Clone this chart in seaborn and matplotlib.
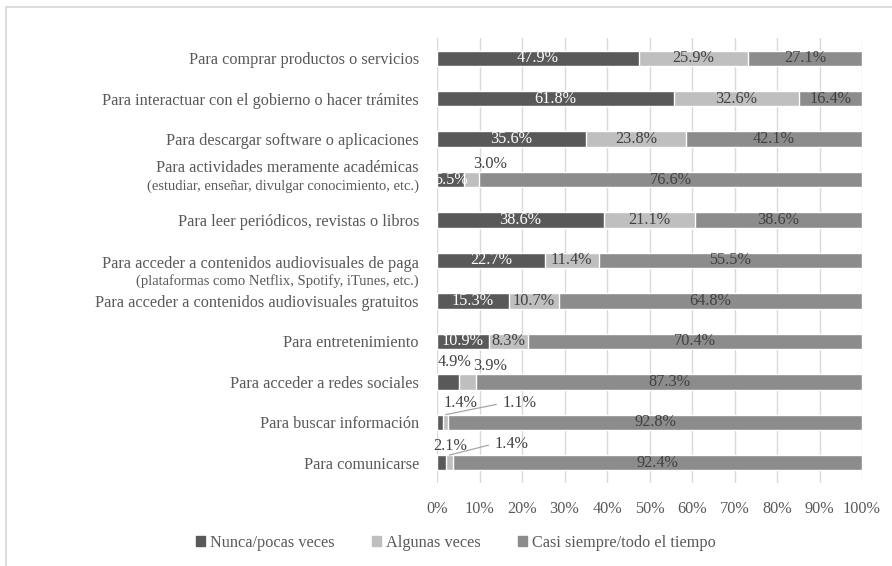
import numpy as np
import pandas as pd
import seaborn as sns
from matplotlib import pyplot as plt
from matplotlib.patches import Patch, Rectangle
from matplotlib.transforms import ScaledTranslation

# data (labels as printed on the chart, bars are 100% stacked)
categories = [
    "Para comprar productos o servicios",
    "Para interactuar con el gobierno o hacer trámites",
    "Para descargar software o aplicaciones",
    "Para actividades meramente académicas",
    "Para leer periódicos, revistas o libros",
    "Para acceder a contenidos audiovisuales de paga",
    "Para acceder a contenidos audiovisuales gratuitos",
    "Para entretenimiento",
    "Para acceder a redes sociales",
    "Para buscar información",
    "Para comunicarse",
]
subtitles = {
    "Para actividades meramente académicas": "(estudiar, enseñar, divulgar conocimiento, etc.)",
    "Para acceder a contenidos audiovisuales de paga": "(plataformas como Netflix, Spotify, iTunes, etc.)",
}
nunca = [47.9, 61.8, 35.6, 5.5, 38.6, 22.7, 15.3, 10.9, 4.9, 1.4, 2.1]
algunas = [25.9, 32.6, 23.8, 3.0, 21.1, 11.4, 10.7, 8.3, 3.9, 1.1, 1.4]
casi = [27.1, 16.4, 42.1, 76.6, 38.6, 55.5, 64.8, 70.4, 87.3, 92.8, 92.4]
series_names = ["Nunca/pocas veces", "Algunas veces", "Casi siempre/todo el tiempo"]

DARK = "#595959"
LIGHT = "#bfbfbf"
MED = "#8c8c8c"
TXT = "#595959"
GRID = "#d9d9d9"
FS = 11.7

sns.set_theme(style="white")
plt.rcParams['font.family'] = ['Liberation Serif', 'DejaVu Serif']

df = pd.DataFrame({"cat": categories, "nunca": nunca, "algunas": algunas, "casi": casi})
total = df[["nunca", "algunas", "casi"]].sum(axis=1)
df["c1"] = df["nunca"] / total * 100
df["c2"] = df["c1"] + df["algunas"] / total * 100
df["c3"] = df["c2"] + df["casi"] / total * 100

fig = plt.figure(figsize=(8.92, 5.66), dpi=100)
ax = fig.add_axes([437 / 892, 1 - 483 / 566, 425 / 892, 445 / 566])

bw = 0.38
for col, c in [("c3", MED), ("c2", LIGHT), ("c1", DARK)]:
    sns.barplot(data=df, x=col, y="cat", color=c, width=bw, orient="h",
                errorbar=None, saturation=1, ax=ax, zorder=2)

ax.set_xlim(0, 100)
ax.set_ylim(10.5, -0.5)
ax.set_xticks(range(0, 101, 10))
ax.set_xticklabels([f"{v}%" for v in range(0, 101, 10)])
ax.set_xlabel("")
ax.set_ylabel("")
ax.grid(axis="x", color=GRID, lw=1)
ax.grid(axis="y", visible=False)
ax.set_axisbelow(True)
for s in ax.spines.values():
    s.set_visible(False)
ax.tick_params(axis="x", length=0, pad=13, labelsize=FS, labelcolor=TXT)
ax.tick_params(axis="y", length=0, pad=13, labelsize=FS, labelcolor=TXT)

# two-line category labels
main_shift = {"Para actividades meramente académicas": 9.5, "Para acceder a contenidos audiovisuales de paga": -1}
sub_shift = {"Para actividades meramente académicas": -4.5, "Para acceder a contenidos audiovisuales de paga": -14.5}
for lab in ax.get_yticklabels():
    t = lab.get_text()
    if t in subtitles:
        lab.set_transform(lab.get_transform() + ScaledTranslation(0, main_shift[t] / 72, fig.dpi_scale_trans))
for i, cat in enumerate(categories):
    if cat in subtitles:
        ax.annotate(subtitles[cat], xy=(0, i), xycoords=("axes fraction", "data"),
                    xytext=(-13, sub_shift[cat]), textcoords="offset points",
                    ha="right", va="center", fontsize=10.5, color=TXT)

# data labels
outside = {
    (3, 1): (13, 11.5, False),
    (8, 0): (5, 14.4, False),
    (8, 1): (16.5, 11.5, False),
    (9, 0): (14.4, 13.7, False),
    (9, 1): (53, 8.2, True),
    (10, 0): (5.8, 12.2, False),
    (10, 1): (44.6, 8.2, True),
}
for i, row in df.iterrows():
    starts = [0, row["c1"], row["c2"]]
    ends = [row["c1"], row["c2"], row["c3"]]
    vals = [row["nunca"], row["algunas"], row["casi"]]
    for j in range(3):
        xc = (starts[j] + ends[j]) / 2
        label = f"{vals[j]:.1f}%"
        if (i, j) in outside:
            dx, dy, leader = outside[(i, j)]
            if leader:
                ax.annotate(label, xy=(xc, i - bw / 2), xytext=(dx, dy), textcoords="offset points",
                            ha="center", va="center", fontsize=FS, color="#404040",
                            arrowprops=dict(arrowstyle="-", color="#a6a6a6", lw=0.9,
                                            shrinkA=2, shrinkB=0, relpos=(0, 0.5)))
            else:
                ax.annotate(label, xy=(xc, i), xytext=(dx, dy), textcoords="offset points",
                            ha="center", va="center", fontsize=FS, color="#404040")
        else:
            ax.text(xc, i, label, ha="center", va="center", fontsize=FS,
                    color="white" if j == 0 else "#404040", zorder=3)

handles = [Patch(color=c) for c in [DARK, LIGHT, MED]]
fig.legend(handles, series_names, loc="center", bbox_to_anchor=(0.511, 1 - 543 / 566), ncol=3,
           frameon=False, handlelength=0.55, handleheight=0.55, handletextpad=0.3,
           columnspacing=2.3, fontsize=FS, labelcolor=TXT)

fig.add_artist(Rectangle((6 / 892, -0.1), 1.2, 1.1 - 7 / 566, transform=fig.transFigure,
                         fill=False, edgecolor=GRID, lw=1.3))

fig.savefig("out.png", dpi=100)
